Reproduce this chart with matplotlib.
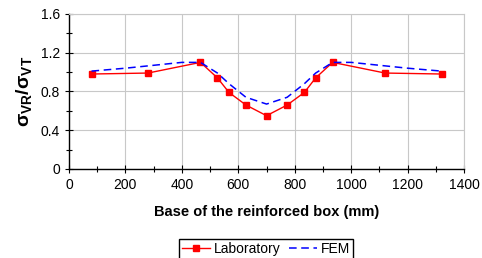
import matplotlib
matplotlib.use("Agg")
import matplotlib.pyplot as plt
from matplotlib.ticker import MultipleLocator, FuncFormatter

plt.rcParams['font.family'] = ['Liberation Sans', 'DejaVu Sans']
plt.rcParams['mathtext.fontset'] = 'custom'
plt.rcParams['mathtext.rm'] = 'Liberation Sans'
plt.rcParams['mathtext.bf'] = 'Liberation Sans:bold'

# data
lab_x = [80, 280, 466, 526, 567, 627, 700, 773, 834, 874, 934, 1120, 1320]
lab_y = [0.98, 0.99, 1.10, 0.94, 0.79, 0.66, 0.55, 0.66, 0.79, 0.94, 1.10, 0.99, 0.98]

fem_x = [80, 200, 300, 400, 466, 526, 567, 627, 700, 773, 834, 874, 934, 1000, 1100, 1200, 1320]
fem_y = [1.01, 1.04, 1.07, 1.10, 1.10, 0.99, 0.88, 0.74, 0.67, 0.74, 0.88, 0.99, 1.10, 1.10, 1.07, 1.04, 1.01]

fig = plt.figure(figsize=(4.82, 2.58), dpi=100)
ax = fig.add_axes([0.143, 0.345, 0.820, 0.601])

ax.plot(lab_x, lab_y, color='red', lw=1, marker='s', ms=4, label='Laboratory')
ax.plot(fem_x, fem_y, color='blue', lw=1.1, ls=(0, (5, 3)), label='FEM')

ax.set_xlim(0, 1400)
ax.set_ylim(0, 1.6)
ax.xaxis.set_major_locator(MultipleLocator(200))
ax.xaxis.set_minor_locator(MultipleLocator(100))
ax.yaxis.set_major_locator(MultipleLocator(0.4))
ax.yaxis.set_minor_locator(MultipleLocator(0.2))
ax.yaxis.set_major_formatter(FuncFormatter(lambda v, p: '0' if abs(v) < 1e-9 else '%.1f' % v))
ax.grid(True, which='major', color='#c8c8c8', lw=0.8)
ax.set_axisbelow(True)
ax.tick_params(which='both', direction='inout', length=6, width=0.8, labelsize=10)
ax.tick_params(which='minor', length=5)
for s in ['top', 'right']:
    ax.spines[s].set_color('#c8c8c8')
for s in ['left', 'bottom']:
    ax.spines[s].set_linewidth(1)

ax.set_xlabel('Base of the reinforced box (mm)', fontsize=10.5, fontweight='bold', labelpad=9)
ax.set_ylabel(r'$\mathbf{\sigma_{VR}/\sigma_{VT}}$', fontsize=14, labelpad=5)

fig.legend(loc='lower center', bbox_to_anchor=(0.552, -0.03), ncol=2, fontsize=10,
           frameon=True, fancybox=False, edgecolor='black', framealpha=1,
           borderpad=0.2, handlelength=2.0, columnspacing=0.6, handletextpad=0.3)

fig.savefig('out.png', dpi=100)
